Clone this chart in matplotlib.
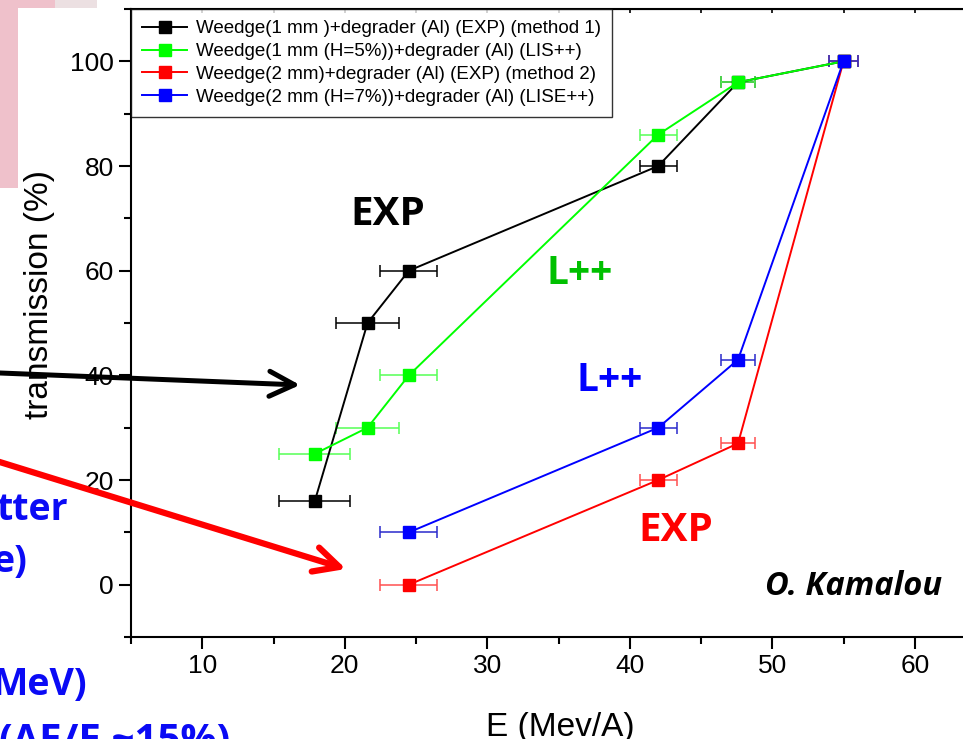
import matplotlib
matplotlib.use("Agg")
import matplotlib.pyplot as plt
from matplotlib.patches import Rectangle
from matplotlib.lines import Line2D
from matplotlib.ticker import MultipleLocator

plt.rcParams['font.family'] = ['Liberation Sans', 'DejaVu Sans']

# data
energy_exp1 = [17.9, 21.6, 24.5, 42.0, 47.6, 55.0]
trans_exp1 = [16, 50, 60, 80, 96, 100]
err_exp1 = [2.5, 2.2, 2.0, 1.3, 1.2, 1.0]

energy_lise1 = [17.9, 21.6, 24.5, 42.0, 47.6, 55.0]
trans_lise1 = [25, 30, 40, 86, 96, 100]
err_lise1 = [2.5, 2.2, 2.0, 1.3, 1.2, 1.0]

energy_exp2 = [24.5, 42.0, 47.6, 55.0]
trans_exp2 = [0, 20, 27, 100]
err_exp2 = [2.0, 1.3, 1.2, 1.0]

energy_lise2 = [24.5, 42.0, 47.6, 55.0]
trans_lise2 = [10, 30, 43, 100]
err_lise2 = [2.0, 1.3, 1.2, 1.0]

labels = [
    "Weedge(1 mm )+degrader (Al) (EXP) (method 1)",
    "Weedge(1 mm (H=5%))+degrader (Al) (LIS++)",
    "Weedge(2 mm)+degrader (Al) (EXP) (method 2)",
    "Weedge(2 mm (H=7%))+degrader (Al) (LISE++)",
]

series = [
    (energy_exp1, trans_exp1, err_exp1, "#000000", "#000000"),
    (energy_lise1, trans_lise1, err_lise1, "#00ff00", "#55ff55"),
    (energy_exp2, trans_exp2, err_exp2, "#ff0000", "#ff5050"),
    (energy_lise2, trans_lise2, err_lise2, "#0000ff", "#2a2acc"),
]

fig = plt.figure(figsize=(9.63, 7.39), dpi=100)
fig.patch.set_facecolor("white")
ax = fig.add_axes([131 / 963, 102 / 739, 855 / 963, 628 / 739])

handles = []
for (x, y, xe, col, ecol), lab in zip(series, labels):
    ax.errorbar(x, y, xerr=xe, fmt="none", ecolor=ecol, elinewidth=1.1,
                capsize=4.5, capthick=1.1, zorder=2)
    ax.plot(x, y, "-s", color=col, lw=1.4, ms=9, mec=col, zorder=3)
    handles.append(Line2D([], [], color=col, lw=1.4, marker="s", ms=8, mec=col))

ax.set_xlim(5, 65)
ax.set_ylim(-10, 110)
ax.xaxis.set_major_locator(MultipleLocator(10))
ax.xaxis.set_minor_locator(MultipleLocator(5))
ax.yaxis.set_major_locator(MultipleLocator(20))
ax.yaxis.set_minor_locator(MultipleLocator(10))
ax.set_yticks([0, 20, 40, 60, 80, 100])
ax.tick_params(which="major", length=8.5, width=1.5, labelsize=19, pad=4)
ax.tick_params(which="minor", length=5, width=1.5)
for s in ax.spines.values():
    s.set_linewidth(1.5)

top = ax.secondary_xaxis("top")
top.xaxis.set_major_locator(MultipleLocator(5))
top.tick_params(direction="in", length=3, width=1.2, labeltop=False)

ax.set_xlabel("E (Mev/A)", fontsize=24)
ax.xaxis.set_label_coords(0.502, -0.119)
ax.set_ylabel("transmission (%)", fontsize=24)
ax.yaxis.set_label_coords(-0.089, 0.546)

leg = ax.legend(handles, labels, loc="upper left", bbox_to_anchor=(0, 1),
                borderaxespad=0, fontsize=13.5, frameon=True, fancybox=False,
                handlelength=2.4, handletextpad=0.45, labelspacing=0.3,
                borderpad=0.6)
leg.get_frame().set_edgecolor("black")
leg.get_frame().set_linewidth(1.0)

# annotations inside the plot
ann = dict(fontfamily=["Open Sans", "DejaVu Sans"], fontweight="bold")
ax.text(23.0, 70.8, "EXP", color="black", fontsize=29, ha="center", va="center", **ann)
ax.text(36.5, 59.4, "L++", color="#00c000", fontsize=28, ha="center", va="center", **ann)
ax.text(38.6, 39.1, "L++", color="#0000ff", fontsize=28, ha="center", va="center", **ann)
ax.text(43.2, 10.3, "EXP", color="#ff0000", fontsize=29, ha="center", va="center", **ann)
ax.text(61.9, -1.9, "O. Kamalou", color="black", fontsize=23.5, ha="right",
        va="baseline", fontstyle="italic", **ann)

# slide elements around the chart (pixel coordinates)
ov = fig.add_axes([0, 0, 1, 1], zorder=10)
ov.set_xlim(0, 963)
ov.set_ylim(739, 0)
ov.axis("off")
ov.patch.set_alpha(0)
ov.add_patch(Rectangle((0, 0), 18, 188, color="#efc1cb", lw=0))
ov.add_patch(Rectangle((0, 0), 55, 8, color="#efc1cb", lw=0))
ov.add_patch(Rectangle((55, 0), 42, 8, color="#ece0e2", lw=0))

ov.annotate("", xy=(300, 385), xytext=(-10, 372.6),
            arrowprops=dict(arrowstyle="->, head_length=0.9, head_width=0.45",
                            color="black", lw=3.6, mutation_scale=20,
                            shrinkA=0, shrinkB=0))
ov.annotate("", xy=(346, 569), xytext=(-10, 459),
            arrowprops=dict(arrowstyle="->, head_length=0.9, head_width=0.45",
                            color="#ff0000", lw=4.5, mutation_scale=20,
                            shrinkA=0, shrinkB=0))

blue = dict(color="#0a0af5", fontsize=27, ha="right", va="baseline", **ann)
ov.text(68, 520, "tter", **blue)
ov.text(27, 572, "e)", **blue)
ov.text(87, 695, "MeV)", **blue)
blue.update(ha="left", fontsize=29)
ov.text(-1, 752, "(ΔE/E ~15%)", **blue)

fig.savefig("out.png", dpi=100)
